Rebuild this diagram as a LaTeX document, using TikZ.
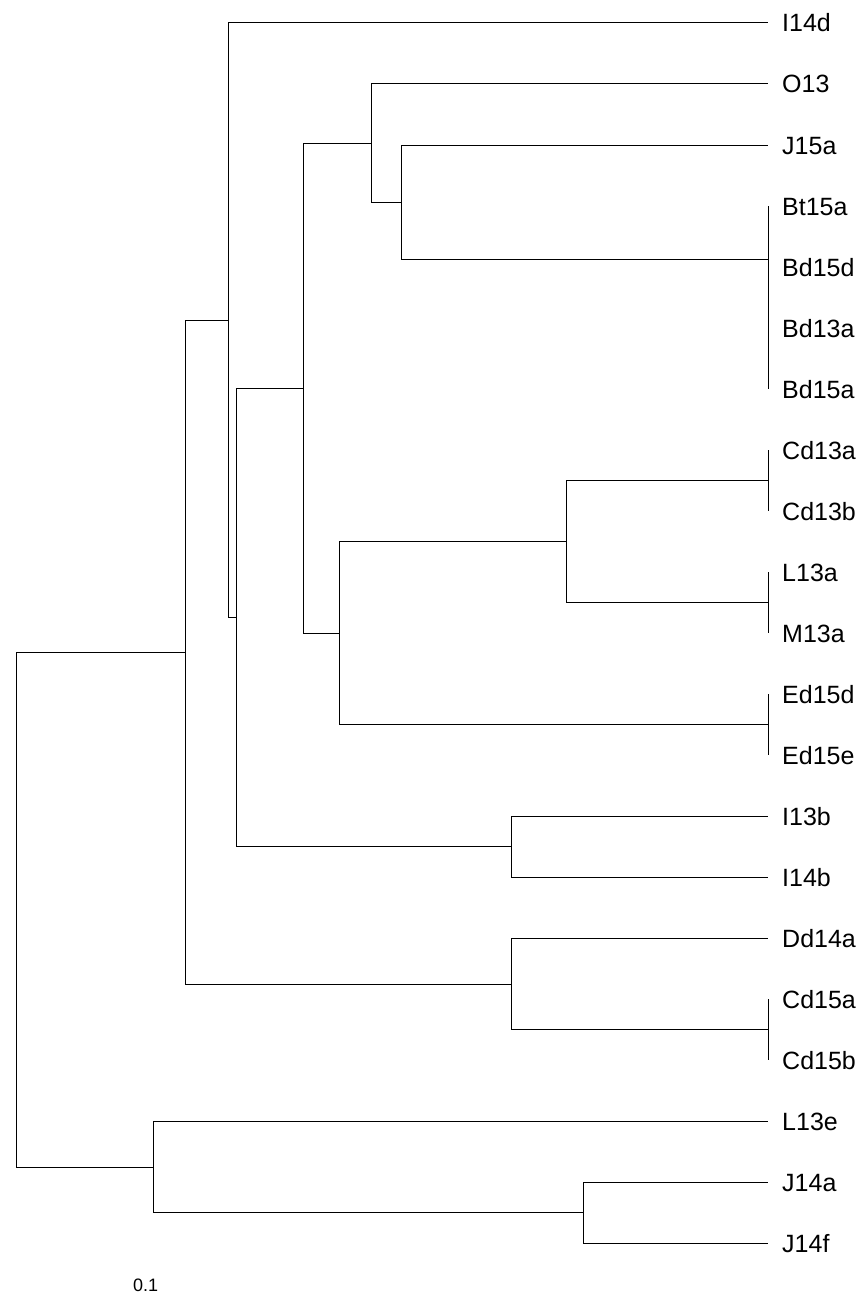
\documentclass[tikz,border=0pt]{standalone}
\usepackage{fontspec}
\setmainfont{Liberation Sans}
\begin{document}
\begin{tikzpicture}[x=1pt,y=-1pt,
  branch/.style={draw=black,line width=1pt},
  leaflabel/.style={anchor=base west,inner sep=0pt,font=\fontsize{25}{30}\selectfont},
  scalelabel/.style={anchor=base west,inner sep=0pt,font=\fontsize{18}{22}\selectfont}]
\useasboundingbox (0,0) rectangle (866,1295);
% leaf tips and labels
\foreach \i/\lab in {0/I14d,1/O13,2/J15a,3/Bt15a,4/Bd15d,5/Bd13a,6/Bd15a,7/Cd13a,8/Cd13b,9/L13a,10/M13a,11/Ed15d,12/Ed15e,13/I13b,14/I14b,15/Dd14a,16/Cd15a,17/Cd15b,18/L13e,19/J14a,20/J14f}{
  \coordinate (t\i) at (768,{23+61*\i});
  \node[leaflabel] (l\i) at (782,{23+61*\i+9}) {\lab};
}
% internal nodes
\coordinate (nB3) at (768,358.5);
\coordinate (nB2) at (768,312.75);
\coordinate (nB1) at (768,259.5);
\coordinate (nJB) at (401,202.25);
\coordinate (nO) at (371,143);
\coordinate (nCd13) at (768,480.5);
\coordinate (nLM) at (768,602.5);
\coordinate (nCL) at (566,541.5);
\coordinate (nEd) at (768,724.5);
\coordinate (nCLE) at (339,633);
\coordinate (nTop) at (303,388);
\coordinate (nI13) at (511,846.5);
\coordinate (nMid) at (236,617);
\coordinate (nA) at (228,320);
\coordinate (nCd15) at (768,1029.5);
\coordinate (nD) at (511,984);
\coordinate (nL) at (185,652);
\coordinate (nJ14) at (583,1212.5);
\coordinate (nR) at (153,1167);
\coordinate (root) at (16,909.5);
% branches
\foreach \p/\c in {root/nL,root/nR,nL/nA,nL/nD,nA/t0,nA/nMid,nMid/nTop,nMid/nI13,
  nTop/nO,nTop/nCLE,nO/t1,nO/nJB,nJB/t2,nJB/nB1,nB1/t3,nB1/nB2,nB2/t4,nB2/nB3,
  nB3/t5,nB3/t6,nCLE/nCL,nCLE/nEd,nCL/nCd13,nCL/nLM,nCd13/t7,nCd13/t8,nLM/t9,nLM/t10,
  nEd/t11,nEd/t12,nI13/t13,nI13/t14,nD/t15,nD/nCd15,nCd15/t16,nCd15/t17,
  nR/t18,nR/nJ14,nJ14/t19,nJ14/t20}{
  \draw[branch] (\p) |- (\c);
}
\node[scalelabel] (scale) at (133,1291.5) {0.1};
\end{tikzpicture}
\end{document}
